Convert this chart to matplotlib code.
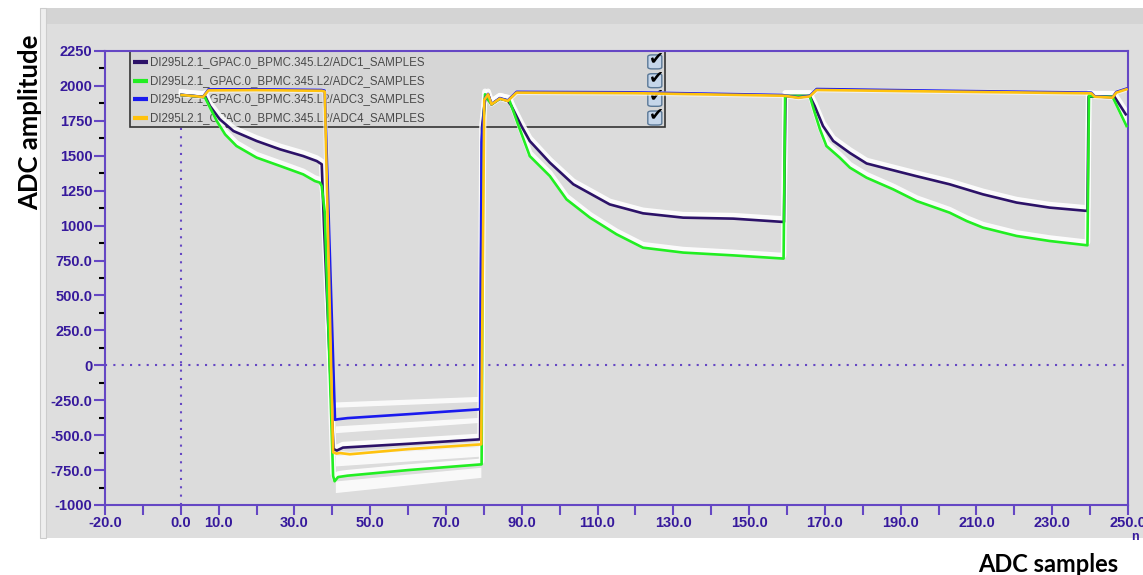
import matplotlib.pyplot as plt
from matplotlib import transforms
from matplotlib.patches import Rectangle, FancyBboxPatch

# values (x = ADC sample, y = ADC amplitude)
adc1_x = [0.2, 5.9, 6.4, 7.7, 10.3, 13.9, 20.0, 26.2, 32.3, 35.9, 37.2, 37.8, 40.3, 41.2, 42.8, 60.0, 79.0,
          79.5, 80.3, 81.1, 82.0, 84.2, 86.3, 87.2, 89.9, 92.1, 97.4, 103.6, 113.2, 122.0, 132.6, 145.8, 159.2,
          159.6, 166.0, 167.3, 169.5, 172.2, 176.6, 181.0, 185.3, 194.0, 202.9, 211.7, 220.6, 229.3, 239.3,
          239.6, 241.2, 246.4, 249.4]
adc1_y = [1935, 1921, 1928, 1856, 1761, 1677, 1606, 1546, 1498, 1462, 1439, 1000, -600, -610, -589, -562, -530,
          1700, 1900, 1940, 1868, 1909, 1895, 1860, 1713, 1606, 1451, 1296, 1152, 1088, 1057, 1050, 1026,
          1928, 1928, 1856, 1713, 1606, 1520, 1445, 1415, 1355, 1296, 1224, 1165, 1129, 1105,
          1923, 1923, 1923, 1797]

adc2_x = [0.2, 5.9, 6.4, 7.7, 9.5, 11.7, 14.7, 20.0, 26.2, 32.3, 35.4, 36.7, 37.2, 38.0, 40.2, 40.6, 41.5, 44.0,
          60.0, 79.4, 79.8, 80.3, 81.1, 82.0, 84.2, 86.8, 89.0, 92.1, 97.4, 101.8, 108.0, 115.0, 122.0, 132.6,
          145.8, 159.1, 159.5, 166.0, 167.3, 168.7, 170.4, 173.9, 176.6, 181.0, 188.0, 194.2, 202.9, 207.4,
          211.7, 220.6, 229.3, 239.3, 239.7, 241.2, 245.9, 249.6]
adc2_y = [1935, 1921, 1916, 1845, 1749, 1653, 1570, 1487, 1427, 1367, 1319, 1308, 1283, 1095, -792, -830, -800, -790,
          -750, -709, 1700, 1940, 1900, 1868, 1909, 1892, 1725, 1498, 1355, 1188, 1057, 938, 842, 807,
          787, 764, 1928, 1928, 1809, 1689, 1570, 1487, 1415, 1343, 1260, 1176, 1093, 1033,
          986, 926, 890, 859, 1930, 1923, 1923, 1713]

adc3_x = [0.2, 5.9, 7.3, 20.0, 37.2, 38.0, 40.7, 41.5, 44.0, 60.0, 79.0, 79.4, 80.3, 81.1, 82.0, 84.2, 86.3, 88.6,
          120.0, 158.8, 159.7, 163.0, 166.0, 167.8, 200.0, 240.3, 241.2, 245.9, 246.9, 249.6]
adc3_y = [1936, 1922, 1975, 1976, 1971, 1966, -390, -386, -378, -350, -315, 1600, 1912, 1943, 1870, 1913, 1896, 1958,
          1954, 1935, 1930, 1918, 1929, 1978, 1966, 1952, 1926, 1918, 1957, 1981]

adc4_x = [0.2, 5.9, 7.3, 20.0, 37.2, 38.0, 40.2, 41.1, 42.0, 44.6, 60.0, 79.3, 80.1, 81.1, 82.0, 84.2, 86.3, 88.6,
          120.0, 158.8, 159.7, 163.0, 166.0, 167.8, 200.0, 240.3, 241.2, 245.9, 246.9, 249.6]
adc4_y = [1935, 1921, 1968, 1970, 1965, 1960, -623, -632, -628, -637, -600, -566, 1900, 1940, 1868, 1909, 1892, 1952,
          1948, 1930, 1928, 1915, 1925, 1971, 1960, 1947, 1923, 1916, 1952, 1976]

series_names = ["DI295L2.1_GPAC.0_BPMC.345.L2/ADC1_SAMPLES",
                "DI295L2.1_GPAC.0_BPMC.345.L2/ADC2_SAMPLES",
                "DI295L2.1_GPAC.0_BPMC.345.L2/ADC3_SAMPLES",
                "DI295L2.1_GPAC.0_BPMC.345.L2/ADC4_SAMPLES"]
series_colors = ["#2c1268", "#22ee22", "#1a1aee", "#ffc20e"]

# white history envelopes in the negative window: (low start, high start, low end, high end)
band_x = [40.8, 79.2]
neg_bands = [(-300, -262, -258, -222),
             (-482, -434, -408, -372),
             (-720, -645, -650, -580),
             (-911, -828, -802, -730)]

xticks = list(range(-20, 251, 10))
xlabels = ["-20.0", "0.0", "10.0", "30.0", "50.0", "70.0", "90.0", "110.0", "130.0", "150.0",
           "170.0", "190.0", "210.0", "230.0", "250.0"]
yticks = [2250, 2000, 1750, 1500, 1250, 1000, 750, 500, 250, 0, -250, -500, -750, -1000]
ylabels = ["2250", "2000", "1750", "1500", "1250", "1000", "750.0", "500.0", "250.0", "0",
           "-250.0", "-500.0", "-750.0", "-1000"]

axis_col = "#6547c4"
label_col = "#36199c"

fig = plt.figure(figsize=(11.43, 5.75), dpi=100)
fig.patch.set_facecolor("white")

# grey scope panel behind the plot
fig.add_artist(Rectangle((40 / 1143, 1 - 538 / 575), 1, 530 / 575, transform=fig.transFigure,
                         facecolor="#dedede", edgecolor="none", zorder=0))
fig.add_artist(Rectangle((40 / 1143, 1 - 24 / 575), 1, 16 / 575, transform=fig.transFigure,
                         facecolor="#d4d4d4", edgecolor="none", zorder=0))
fig.add_artist(Rectangle((40 / 1143, 1 - 538 / 575), 6 / 1143, 530 / 575, transform=fig.transFigure,
                         facecolor="#eeeeee", edgecolor="#cccccc", lw=0.8, zorder=0))

ax = fig.add_axes([105 / 1143, 1 - 505 / 575, 1023 / 1143, 454 / 575])
ax.set_facecolor("#dcdcdc")
ax.set_xlim(-20, 250)
ax.set_ylim(-1000, 2250)

for s in ax.spines.values():
    s.set_color(axis_col)
    s.set_linewidth(1.5)

ax.set_xticks(xticks)
ax.set_xticklabels([("%.1f" % t) if ("%.1f" % t) in xlabels else "" for t in xticks])
ax.set_yticks(yticks)
ax.set_yticklabels(ylabels)
ax.set_yticks([t + 125 for t in yticks[1:]], minor=True)
ax.tick_params(axis="both", colors=axis_col, width=1.5, direction="out", labelcolor=label_col)
ax.tick_params(axis="y", which="major", length=8, pad=1)
ax.tick_params(axis="y", which="minor", length=4, width=1.5)
ax.tick_params(axis="x", length=7, pad=1)
for lab in ax.get_xticklabels() + ax.get_yticklabels():
    lab.set_fontfamily("Liberation Sans")
    lab.set_fontweight("bold")
    lab.set_fontsize(10.5)

ax.axhline(0, color=axis_col, lw=1.5, ls=(0, (1, 3)), zorder=1)
ax.axvline(0, color=axis_col, lw=1.5, ls=(0, (1, 3)), zorder=1)

# legend box drawn under the traces, like on the scope
ax.add_patch(Rectangle((25 / 1023, 378 / 454), 535 / 1023, 76 / 454, transform=ax.transAxes,
                       facecolor="#d6d6d6", edgecolor="#333333", lw=1.2, zorder=1.2))
rows = [0.976, 0.9346, 0.8936, 0.8524]
for name, col, ry in zip(series_names, series_colors, rows):
    ax.plot([0.0274, 0.042], [ry, ry], transform=ax.transAxes, color=col, lw=3, zorder=1.3,
            solid_capstyle="butt")
    ax.text(0.044, ry, name, transform=ax.transAxes, fontsize=8.3, family="Liberation Sans",
            color="#4a4a4a", va="center", ha="left", zorder=1.3)
    ax.add_patch(FancyBboxPatch((0.5306, ry - 0.0154), 0.0137, 0.0308, transform=ax.transAxes,
                                boxstyle="round,pad=0,rounding_size=0.004", facecolor="#c5d6ea",
                                edgecolor="#5a7897", lw=1, zorder=1.3))
    ax.text(0.5386, ry + 0.008, "\u2714", transform=ax.transAxes, fontsize=13, color="black",
            ha="center", va="center", zorder=1.35)

for lo_s, hi_s, lo_e, hi_e in neg_bands:
    ax.fill_between(band_x, [lo_s, lo_e], [hi_s, hi_e], color="white", alpha=0.85, lw=0, zorder=1.5)

all_x = [adc1_x, adc2_x, adc3_x, adc4_x]
all_y = [adc1_y, adc2_y, adc3_y, adc4_y]

# white shadow just above the decaying traces
halo = transforms.offset_copy(ax.transData, fig=fig, x=0, y=3, units="dots")
for i in [0, 1]:
    ax.plot(all_x[i], all_y[i], color="white", lw=4, alpha=0.9, transform=halo, zorder=1.6)
ax.plot(adc4_x, adc4_y, color="white", lw=3.5, alpha=0.6, zorder=1.6)

for i in [2, 0, 1, 3]:
    ax.plot(all_x[i], all_y[i], color=series_colors[i], lw=1.9, zorder=3 + i * 0.1)

fig.text(30 / 1143, 1 - 122 / 575, "ADC amplitude", rotation=90, ha="center", va="center",
         fontsize=18.5, fontweight="bold", family="Lato", color="black")
fig.text(1048 / 1143, 1 - 565 / 575, "ADC samples", ha="center", va="center",
         fontsize=17, fontweight="bold", family="Lato", color="black")
fig.text(1131 / 1143, 1 - 537 / 575, "n", ha="left", va="center", fontsize=9, fontweight="bold",
         family="Liberation Sans", color=label_col)

fig.savefig("out.png", dpi=100)
